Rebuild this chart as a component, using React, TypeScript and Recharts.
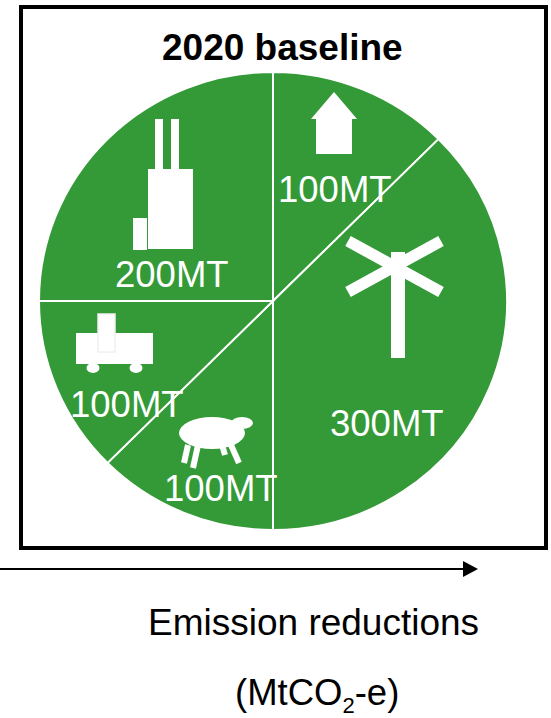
import React from "react";
import { PieChart, Pie, Cell } from "recharts";

const sectors = ["Buildings", "Electricity", "Agriculture", "Transport", "Industry"];
const emissions = [100, 300, 100, 100, 200];
const sliceLabels = ["100MT", "300MT", "100MT", "100MT", "200MT"];
const title = "2020 baseline";
const axisLine1 = "Emission reductions";
const GREEN = "#349a37";
const FONT = "'Liberation Sans', Arial, sans-serif";

const data = sectors.map((name, i) => ({ name, value: emissions[i] }));
const labelPos = [
  [278, 202],
  [330, 436],
  [164, 501],
  [70, 417],
  [115, 287],
];
const SQUASH = 229 / 234;

export default function App() {
  return (
    <div style={{ position: "absolute", left: 0, top: 0, width: 551, height: 718, background: "#fff" }}>
      <div style={{ position: "absolute", left: 0, top: 0, transform: `scaleY(${SQUASH})`, transformOrigin: "0 0" }}>
        <PieChart width={551} height={734} margin={{ top: 0, right: 0, bottom: 0, left: 0 }}>
          <Pie
            data={data}
            dataKey="value"
            cx={273}
            cy={301 / SQUASH}
            innerRadius={0}
            outerRadius={234}
            startAngle={90}
            endAngle={-270}
            stroke="#fff"
            strokeWidth={2}
            label={false}
            labelLine={false}
            isAnimationActive={false}
          >
            {data.map((d) => (
              <Cell key={d.name} fill={GREEN} />
            ))}
          </Pie>
        </PieChart>
      </div>
      <svg width={551} height={718} style={{ position: "absolute", left: 0, top: 0 }}>
        <rect x={21} y={7} width={525} height={541} fill="none" stroke="#000" strokeWidth={4} />
        {/* house */}
        <path d="M334 92 L357 119 L352 119 L352 154 L316 154 L316 119 L311 119 Z" fill="#fff" />
        {/* factory */}
        <g fill="#fff">
          <rect x={155} y={119} width={8} height={52} />
          <rect x={171} y={119} width={8} height={52} />
          <rect x={148} y={169} width={45} height={80} />
          <rect x={133} y={218} width={14} height={32} />
        </g>
        {/* wind turbine */}
        <g stroke="#fff" strokeWidth={11.5}>
          <line x1={348} y1={241} x2={441} y2={292} />
          <line x1={441} y1={241} x2={348} y2={292} />
        </g>
        <rect x={391} y={252} width={14} height={106} fill="#fff" />
        {/* train */}
        <g fill="#fff">
          <rect x={76} y={333} width={77} height={31} />
          <rect x={98} y={314} width={17} height={38} stroke="#f0f0f0" strokeWidth={1.5} />
          <ellipse cx={93} cy={368} rx={6.5} ry={5} />
          <ellipse cx={136} cy={368} rx={6.5} ry={5} />
        </g>
        {/* sheep */}
        <g fill="#fff">
          <ellipse cx={212} cy={433} rx={33} ry={16} />
          <ellipse cx={242} cy={423} rx={11} ry={6} />
        </g>
        <g stroke="#fff" strokeWidth={6}>
          <line x1={188} y1={445} x2={184} y2={463} />
          <line x1={198} y1={445} x2={193} y2={468} />
          <line x1={222} y1={445} x2={225} y2={455} />
          <line x1={231} y1={445} x2={239} y2={463} />
        </g>
        <g fontFamily={FONT}>
          <text x={162} y={60} fontSize={37} fontWeight="bold" fill="#000">{title}</text>
          {sliceLabels.map((t, i) => (
            <text key={i} x={labelPos[i][0]} y={labelPos[i][1]} fontSize={36.5} fill="#fff">{t}</text>
          ))}
        </g>
        {/* axis arrow */}
        <line x1={0} y1={569} x2={464} y2={569} stroke="#000" strokeWidth={2} />
        <path d="M463 561 L478 569 L463 577 Z" fill="#000" />
        <g fontFamily={FONT} fill="#000">
          <text x={148} y={635} fontSize={37}>{axisLine1}</text>
          <text x={235} y={705} fontSize={36.5}>
            (MtCO<tspan fontSize={22} dy={8}>2</tspan><tspan dy={-8}>-e)</tspan>
          </text>
        </g>
      </svg>
    </div>
  );
}
